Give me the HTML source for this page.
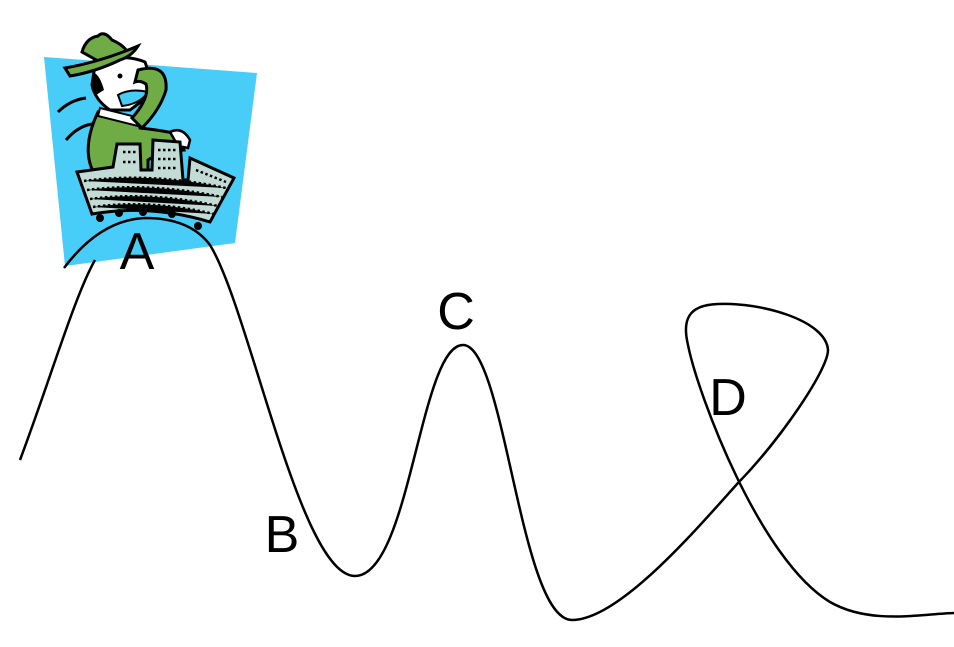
<!DOCTYPE html>
<html><head><meta charset="utf-8"><style>
html,body{margin:0;padding:0;background:#fff;}
svg{display:block;}
text{font-family:"Liberation Sans",sans-serif;font-size:52px;fill:#000;}
</style></head><body>
<svg width="954" height="647" viewBox="0 0 954 647" xmlns="http://www.w3.org/2000/svg">
<polygon points="44,57 257,73 235,243 65,266" fill="#48cdf8"/>
<!-- wind lines -->
<path d="M58,112 Q70,100 86,98 M66,140 Q78,126 92,124" stroke="#000" stroke-width="3" fill="none"/>
<!-- body -->
<path d="M98,112 L138,122 L140,128 Q160,130 178,134 L184,150 Q160,152 148,160 L148,175 L95,175 Q80,150 98,112 Z" fill="#6fac46" stroke="#000" stroke-width="3"/>
<path d="M100,108 L140,118 L138,126 L98,116 Z" fill="#fff" stroke="#000" stroke-width="2"/>
<path d="M170,132 Q182,126 190,140 L188,148 L178,146 Z" fill="#fff" stroke="#000" stroke-width="2.5"/>
<!-- head -->
<path d="M95,65 Q120,52 145,62 Q152,80 150,95 L130,110 L110,110 Q95,100 92,85 Z" fill="#fff" stroke="#000" stroke-width="3"/>
<path d="M93,72 Q100,75 104,90 L96,95 Q90,82 93,72 Z" fill="#000"/>
<circle cx="120" cy="76" r="2.5" fill="#000"/>
<path d="M118,95 Q130,88 148,92 Q140,104 122,106 Z" fill="#48cdf8" stroke="#000" stroke-width="2"/>
<!-- raised arm -->
<path d="M138,70 Q168,62 166,90 Q160,110 142,128 L132,118 Q150,98 146,84 Q140,80 135,82 Z" fill="#6fac46" stroke="#000" stroke-width="3"/>
<!-- hat -->
<path d="M82,52 Q86,38 98,36 Q104,30 112,40 Q122,44 128,52 L100,62 Z" fill="#6fac46" stroke="#000" stroke-width="3"/>
<path d="M65,68 Q100,62 138,46 Q132,56 120,60 Q95,72 70,76 Z" fill="#6fac46" stroke="#000" stroke-width="3"/>
<!-- buildings -->
<path d="M77,172 L113,167 L117,144 L140,144 L141,170 L152,170 L153,140 L180,142 L183,180 L188,180 L190,158 L234,178 L210,222 Q150,204 92,214 Z" fill="#c2dbd5" stroke="#000" stroke-width="3"/>
<g stroke="#000" stroke-width="2.5" stroke-dasharray="2.5,2.5">
<path d="M84,181 Q150,172 226,188"/><path d="M87,190 Q150,182 222,197"/><path d="M90,199 Q150,191 218,206"/><path d="M93,207 Q150,199 214,214"/>
<path d="M123,152 L136,152 M123,162 L136,162 M158,150 L177,150 M158,159 L177,159 M158,168 L177,168"/>
<path d="M196,170 L226,182"/>
</g>
<g fill="#000"><circle cx="100" cy="218" r="4"/><circle cx="119" cy="213" r="4"/><circle cx="143" cy="212" r="4"/><circle cx="172" cy="214" r="4"/><circle cx="198" cy="226" r="4"/></g>
<path d="M64,268 Q100,220 145,218 Q190,218 210,245 C250,310 300,576 355,576 C410,576 420,345 463,345 C505,345 520,620 572,620 C620,620 700,525 738,483 C780,440 828,370 828,350 C826,320 760,302 718,304 C688,305 682,320 688,345 C698,395 760,560 830,602 C870,625 920,614 954,613" fill="none" stroke="#000" stroke-width="2.5"/>
<path d="M20,460 C50,380 75,295 95,260" fill="none" stroke="#000" stroke-width="2.5"/>
<text x="137" y="269" text-anchor="middle">A</text>
<text x="282" y="552" text-anchor="middle">B</text>
<text x="456" y="329" text-anchor="middle">C</text>
<text x="728" y="415" text-anchor="middle">D</text>
</svg>
</body></html>
